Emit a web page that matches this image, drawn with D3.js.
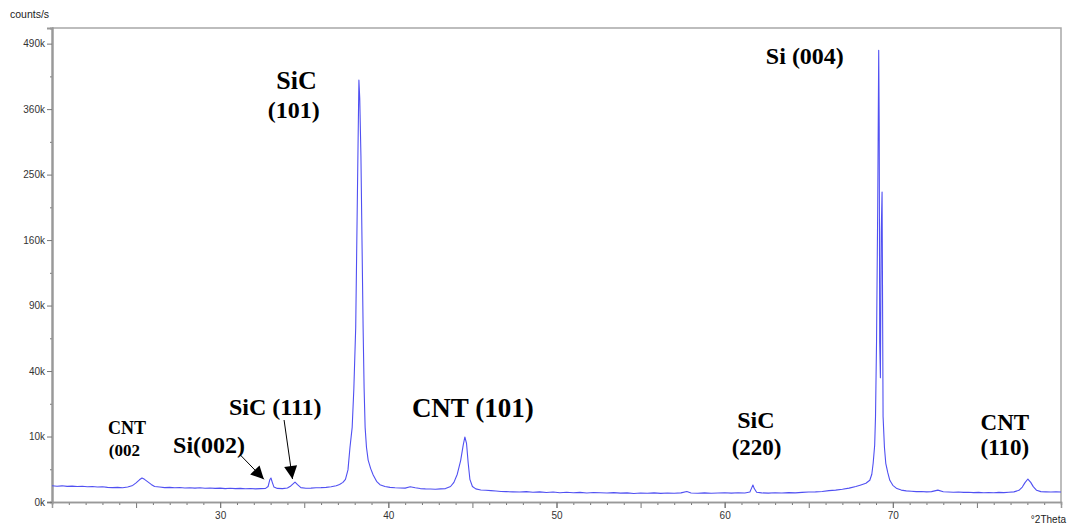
<!DOCTYPE html>
<html>
<head>
<meta charset="utf-8">
<script src="https://cdn.jsdelivr.net/npm/d3@7"></script>
<style>
  body { margin: 0; background: #fff; }
</style>
</head>
<body>
<script>
// diffraction pattern (degrees 2theta, counts/s)
var twoTheta = [
  20.0, 20.3, 20.6, 20.9, 21.2, 21.5, 21.8, 22.1, 22.4, 22.7, 23.0, 23.3, 23.6, 23.9, 24.2, 24.5,
  24.8, 25.0, 25.2, 25.35, 25.5, 25.7, 25.9, 26.1, 26.4, 26.7, 27.0, 27.3, 27.6, 27.9, 28.2, 28.5,
  28.8, 29.1, 29.4, 29.7, 30.0, 30.3, 30.6, 30.9, 31.2, 31.5, 31.8, 32.1, 32.4, 32.7, 32.85, 32.95,
  33.02, 33.1, 33.2, 33.4, 33.7, 34.0, 34.2, 34.45, 34.6, 34.8, 35.1, 35.4, 35.7, 36.0, 36.3, 36.6,
  36.9, 37.1, 37.3, 37.45, 37.6, 37.72, 37.85, 37.95, 38.06, 38.15, 38.2, 38.25, 38.3, 38.37, 38.44, 38.5,
  38.56, 38.62, 38.7, 38.8, 38.95, 39.1, 39.3, 39.5, 39.8, 40.1, 40.4, 40.7, 41.0, 41.3, 41.6, 41.9,
  42.2, 42.5, 42.8, 43.1, 43.4, 43.7, 43.9, 44.1, 44.3, 44.45, 44.55, 44.65, 44.75, 44.85, 45.0, 45.2,
  45.5, 45.8, 46.1, 46.4, 46.7, 47.0, 47.4, 47.8, 48.2, 48.6, 49.0, 49.4, 49.8, 50.2, 50.6, 51.0,
  51.4, 51.8, 52.2, 52.6, 53.0, 53.4, 53.8, 54.2, 54.6, 55.0, 55.4, 55.8, 56.2, 56.6, 57.0, 57.4,
  57.75, 58.0, 58.4, 58.8, 59.2, 59.6, 60.0, 60.4, 60.8, 61.2, 61.5, 61.6, 61.68, 61.76, 61.9, 62.2,
  62.6, 63.0, 63.4, 63.8, 64.2, 64.6, 65.0, 65.4, 65.8, 66.2, 66.6, 67.0, 67.4, 67.8, 68.1, 68.4,
  68.63, 68.75, 68.83, 68.92, 68.97, 69.03, 69.1, 69.16, 69.19, 69.22, 69.26, 69.31, 69.36, 69.42, 69.5, 69.58,
  69.7, 69.82, 70.0, 70.24, 70.5, 70.8, 71.1, 71.4, 71.7, 72.0, 72.3, 72.68, 73.0, 73.3, 73.6, 73.9,
  74.2, 74.5, 74.8, 75.1, 75.4, 75.7, 76.0, 76.3, 76.6, 76.9, 77.2, 77.5, 77.7, 77.85, 78.03, 78.2,
  78.35, 78.55, 78.8, 79.1, 79.4, 79.7, 80.0
];
var counts = [
  620, 580, 610, 570, 590, 560, 575, 540, 560, 520, 540, 500, 480, 500, 470, 520,
  640, 850, 1150, 1340, 1200, 950, 720, 560, 520, 480, 500, 470, 490, 460, 470, 450,
  470, 440, 460, 430, 450, 420, 440, 415, 430, 410, 425, 400, 415, 430, 560, 1150,
  1340, 900, 520, 430, 420, 460, 600, 930, 700, 480, 440, 450, 470, 480, 500, 540,
  620, 720, 900, 1200, 2400, 7000, 13000, 30000, 71000, 200000, 300000, 415000, 380000, 280000, 150000, 71000,
  30000, 13000, 7000, 4100, 2600, 1700, 1000, 700, 560, 500, 470, 460, 450, 540, 470, 420,
  400, 390, 380, 400, 420, 560, 900, 1800, 4000, 7500, 9850, 8000, 3500, 1200, 560, 400,
  340, 320, 300, 280, 260, 250, 240, 230, 250, 220, 240, 210, 230, 200, 220, 200,
  215, 190, 210, 200, 190, 205, 185, 195, 170, 190, 180, 195, 175, 190, 180, 195,
  260, 190, 180, 195, 180, 190, 200, 185, 200, 190, 230, 450, 670, 420, 220, 195,
  185, 200, 190, 205, 195, 215, 230, 240, 260, 300, 330, 380, 450, 560, 680, 820,
  1100, 1800, 3500, 7500, 17000, 59000, 200000, 476000, 330000, 60000, 36000, 170000, 224000, 17000, 7000, 3500,
  2000, 1100, 650, 420, 330, 290, 270, 250, 260, 240, 250, 330, 245, 230, 220, 235,
  215, 220, 205, 215, 200, 210, 200, 215, 205, 220, 240, 320, 520, 850, 1230, 900,
  550, 320, 250, 240, 230, 245, 235
];

var yTicks = [0, 10000, 40000, 90000, 160000, 250000, 360000, 490000];
var yMinor = [2500, 22500, 62500, 122500, 202500, 302500, 422500];
var xTicks = [30, 40, 50, 60, 70];

var W = 1070, H = 530;
var plotL = 52, plotR = 1061, plotT = 28, plotB = 502;

var x = d3.scaleLinear().domain([20, 80]).range([plotL, plotR]);
var y = d3.scaleSqrt().domain([0, 524000]).range([plotB, plotT]);

var svg = d3.select('body').append('svg')
    .attr('width', W)
    .attr('height', H)
    .style('display', 'block');

// frame
svg.append('path')
    .attr('d', 'M' + plotL + ',' + plotT + 'H' + plotR + 'V' + plotB)
    .attr('fill', 'none')
    .attr('stroke', '#a8a8a8')
    .attr('stroke-width', 1.5);

// minor x ticks (every degree), longer every 5
var xg = svg.append('g').attr('transform', 'translate(0,' + plotB + ')');
xg.call(d3.axisBottom(x).tickValues(d3.range(21, 80)).tickSize(3).tickFormat(''));
xg.selectAll('.tick line').filter(function (d) { return d % 5 === 0; }).attr('y2', 6);
var xg2 = svg.append('g').attr('transform', 'translate(0,' + plotB + ')');
xg2.call(d3.axisBottom(x).tickValues(xTicks).tickSize(6).tickPadding(4));
[xg, xg2].forEach(function (g) {
    g.select('.domain').attr('stroke', '#999').attr('stroke-width', 1.5);
    g.selectAll('.tick line').attr('stroke', '#777');
});
xg2.selectAll('text')
    .attr('font-family', 'Liberation Sans, Arial, sans-serif')
    .attr('font-size', '10px')
    .attr('fill', '#333');

// y axis, square root scale
var yg = svg.append('g').attr('transform', 'translate(' + plotL + ',0)');
yg.call(d3.axisLeft(y).tickValues(yMinor).tickSize(2).tickFormat(''));
var yg2 = svg.append('g').attr('transform', 'translate(' + plotL + ',0)');
yg2.call(d3.axisLeft(y).tickValues(yTicks).tickSize(5).tickPadding(2)
    .tickFormat(function (d) { return (d / 1000) + 'k'; }));
[yg, yg2].forEach(function (g) {
    g.select('.domain').attr('stroke', '#999').attr('stroke-width', 2);
    g.selectAll('.tick line').attr('stroke', '#777');
});
yg2.selectAll('text')
    .attr('font-family', 'Liberation Sans, Arial, sans-serif')
    .attr('font-size', '10px')
    .attr('fill', '#333');

// the pattern
var pts = twoTheta.map(function (t, i) { return [t, counts[i]]; });
var line = d3.line()
    .x(function (d) { return x(d[0]); })
    .y(function (d) { return y(d[1]); });
svg.append('path')
    .datum(pts)
    .attr('d', line)
    .attr('fill', 'none')
    .attr('stroke', '#5050f2')
    .attr('stroke-width', 1.1)
    .attr('stroke-linejoin', 'round');

// axis titles
svg.append('text')
    .attr('x', 10).attr('y', 18)
    .attr('font-family', 'Liberation Sans, Arial, sans-serif')
    .attr('font-size', '10.5px')
    .attr('fill', '#222')
    .text('counts/s');
svg.append('text')
    .attr('x', 1066).attr('y', 523)
    .attr('text-anchor', 'end')
    .attr('font-family', 'Liberation Sans, Arial, sans-serif')
    .attr('font-size', '10px')
    .attr('fill', '#222')
    .text('°2Theta');

// peak labels (anchored on the 2theta axis)
var serif = 'Liberation Serif, Times New Roman, serif';
function label(txt, at, py, size, anchor) {
    svg.append('text')
        .attr('x', x(at)).attr('y', py)
        .attr('text-anchor', anchor || 'middle')
        .attr('font-family', serif)
        .attr('font-weight', 'bold')
        .attr('font-size', size + 'px')
        .attr('fill', '#000')
        .text(txt);
}
label('SiC', 34.54, 89, 26);
label('(101)', 34.37, 118, 24);
label('Si (004)', 62.45, 64, 24, 'start');
label('CNT (101)', 41.4, 417, 27, 'start');
label('SiC (111)', 30.52, 415, 24, 'start');
label('Si(002)', 27.2, 453, 24, 'start');
label('CNT', 23.33, 434, 18, 'start');
label('(002', 23.38, 456, 17, 'start');
label('SiC', 61.86, 428, 24);
label('(220)', 61.9, 455, 23);
label('CNT', 76.66, 430, 23);
label('(110)', 76.66, 455, 23);

// arrows to the two small peaks
svg.append('defs').append('marker')
    .attr('id', 'head')
    .attr('viewBox', '0 0 10 10')
    .attr('refX', 10).attr('refY', 5)
    .attr('markerWidth', 15).attr('markerHeight', 13)
    .attr('markerUnits', 'userSpaceOnUse')
    .attr('orient', 'auto')
    .append('path')
    .attr('d', 'M0,0L10,5L0,10Z')
    .attr('fill', '#000');

svg.append('line')
    .attr('x1', x(31.2)).attr('y1', 455)
    .attr('x2', x(32.6)).attr('y2', y(1000) - 2)
    .attr('stroke', '#000').attr('stroke-width', 1)
    .attr('marker-end', 'url(#head)');
svg.append('line')
    .attr('x1', x(33.8)).attr('y1', 420)
    .attr('x2', x(34.3)).attr('y2', y(930) - 3)
    .attr('stroke', '#000').attr('stroke-width', 1)
    .attr('marker-end', 'url(#head)');
</script>
</body>
</html>
